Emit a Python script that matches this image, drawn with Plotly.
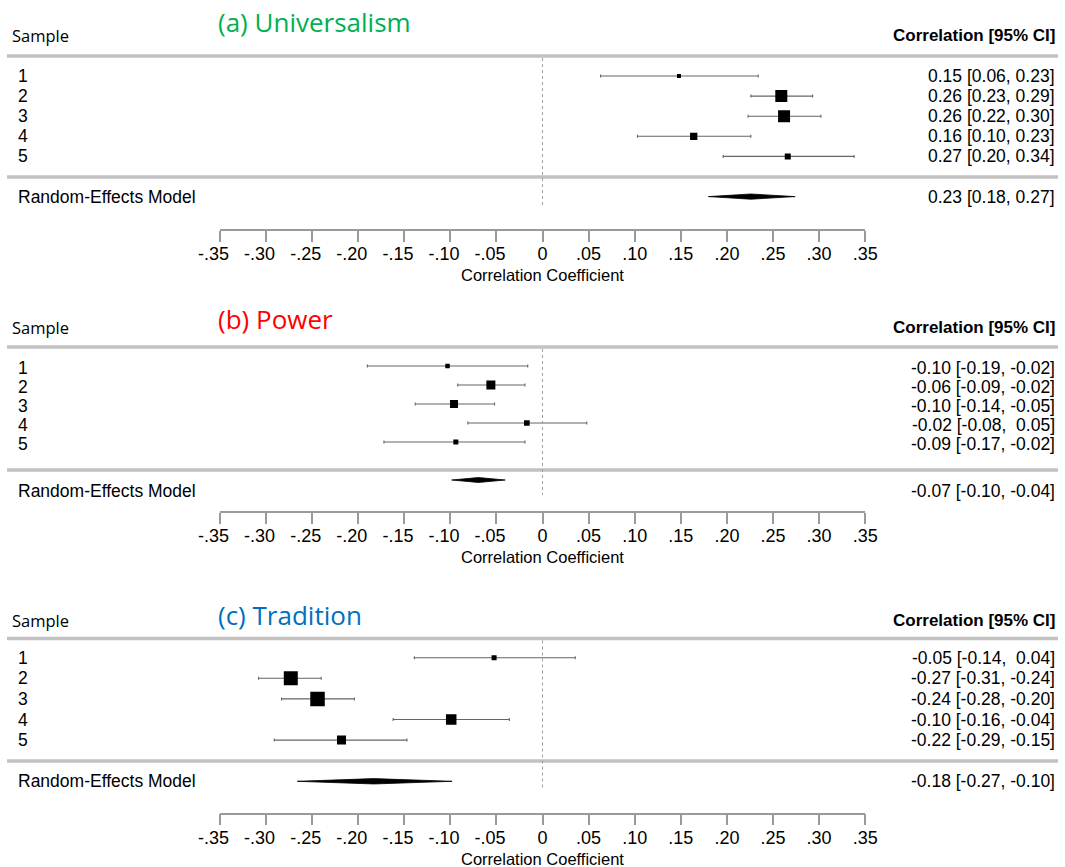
import plotly.graph_objects as go

# ---------------- data ----------------
samples = ["1", "2", "3", "4", "5"]
re_label = "Random-Effects Model"

tick_vals = [-0.35, -0.30, -0.25, -0.20, -0.15, -0.10, -0.05, 0, 0.05, 0.10, 0.15, 0.20, 0.25, 0.30, 0.35]
tick_text = ["-.35", "-.30", "-.25", "-.20", "-.15", "-.10", "-.05", "0", ".05", ".10", ".15", ".20", ".25", ".30", ".35"]

# (a) Universalism
a_est = [0.148, 0.259, 0.262, 0.164, 0.266]
a_lo = [0.063, 0.226, 0.223, 0.103, 0.196]
a_hi = [0.234, 0.293, 0.302, 0.226, 0.338]
a_weight = [8, 24, 24, 14.6, 12]
a_re = [0.226, 0.180, 0.274]  # est, lo, hi

# (b) Power
b_est = [-0.103, -0.056, -0.096, -0.017, -0.094]
b_lo = [-0.190, -0.092, -0.138, -0.081, -0.172]
b_hi = [-0.016, -0.019, -0.052, 0.048, -0.019]
b_weight = [9, 18, 16, 11.4, 10]
b_re = [-0.0695, -0.0985, -0.0405]

# (c) Tradition
c_est = [-0.0525, -0.273, -0.244, -0.099, -0.218]
c_lo = [-0.139, -0.308, -0.283, -0.162, -0.291]
c_hi = [0.0355, -0.240, -0.204, -0.036, -0.147]
c_weight = [10, 28, 29, 21, 18]
c_re = [-0.183, -0.266, -0.098]

titles = ["(a) Universalism", "(b) Power", "(c) Tradition"]

# ---------------- layout helpers ----------------
W, H = 1065, 867
X_LEFT_PX, X_RIGHT_PX = 219.8, 865.2


def py(p):
    return 1 - p / H


def pxf(p):
    return p / W


panels = [
    dict(est=a_est, lo=a_lo, hi=a_hi, w=a_weight, re=a_re, title=titles[0], color="#00B050",
         title_y=22, head_y=35, line1=56, line2=177, row1=76, step=20.1, dot_end=205, axis=229,
         text_shift=0, re_text_shift=0),
    dict(est=b_est, lo=b_lo, hi=b_hi, w=b_weight, re=b_re, title=titles[1], color="#FF0000",
         title_y=319, head_y=328, line1=347, line2=470, row1=366, step=19.0, dot_end=495, axis=511,
         text_shift=-2, re_text_shift=-10.5),
    dict(est=c_est, lo=c_lo, hi=c_hi, w=c_weight, re=c_re, title=titles[2], color="#0070C0",
         title_y=615, head_y=620, line1=638.5, line2=761, row1=657.7, step=20.6, dot_end=789, axis=812.5,
         text_shift=0, re_text_shift=0),
]

ARIAL = "Liberation Sans, Arial, sans-serif"
SANS2 = "Open Sans, Noto Sans, sans-serif"
NB = "\u00a0"


def fmt_col(vals):
    s = [f"{v:.2f}" for v in vals]
    n = max(len(t) for t in s)
    return [NB * (n - len(t)) + t for t in s]


fig = go.Figure()
annotations = []
shapes = []
layout_axes = {}

for k, p in enumerate(panels):
    idx = "" if k == 0 else str(k + 1)
    xa, ya = "x" + idx, "y" + idx
    rows = list(range(1, len(samples) + 1))
    re_row = len(samples) + 2

    def yv(pix, p=p):
        return 1 + (pix - p["row1"]) / p["step"]

    # CI whiskers (drawn first, beneath the squares)
    fig.add_trace(go.Scatter(
        x=p["est"], y=rows, mode="markers", xaxis=xa, yaxis=ya, showlegend=False, hoverinfo="skip",
        marker=dict(size=1, color="rgba(0,0,0,0)"),
        error_x=dict(type="data", symmetric=False,
                     array=[h - e for h, e in zip(p["hi"], p["est"])],
                     arrayminus=[e - l for e, l in zip(p["est"], p["lo"])],
                     color="#666666", thickness=1.1, width=1.5),
    ))
    # study estimates
    fig.add_trace(go.Scatter(
        x=p["est"], y=rows, mode="markers", xaxis=xa, yaxis=ya, showlegend=False,
        marker=dict(symbol="square", color="black", size=[0.5 * w for w in p["w"]],
                    line=dict(width=0), opacity=1),
    ))
    # summary diamond
    e, l, h = p["re"]
    dh = 0.13
    fig.add_trace(go.Scatter(
        x=[l, e, h, e, l], y=[re_row, re_row - dh, re_row, re_row + dh, re_row],
        mode="lines", fill="toself", fillcolor="black", line=dict(color="black", width=0.8),
        xaxis=xa, yaxis=ya, showlegend=False, hoverinfo="skip",
    ))

    layout_axes["xaxis" + idx] = dict(
        domain=[pxf(X_LEFT_PX), pxf(X_RIGHT_PX)], range=[-0.35, 0.35], anchor=ya,
        showgrid=False, zeroline=False, showline=True, linecolor="#9a9a9a", linewidth=1.5,
        ticks="outside", ticklen=11, tickwidth=1.5, tickcolor="#9a9a9a", tickangle=0,
        automargin=False, ticklabelstandoff=-3,
        tickvals=tick_vals,
        ticktext=[t + "\u2002\u2009" if t.startswith("-") else t for t in tick_text],
        tickfont=dict(family=ARIAL, size=18, color="black"),
    )
    layout_axes["yaxis" + idx] = dict(
        domain=[py(p["axis"]), py(p["line1"])], range=[yv(p["axis"]), yv(p["line1"])],
        anchor=xa, visible=False, showgrid=False, zeroline=False, automargin=False,
    )

    # separator lines
    for lp in (p["line1"], p["line2"]):
        shapes.append(dict(type="line", xref="paper", yref="paper", x0=pxf(7), x1=pxf(1058),
                           y0=py(lp), y1=py(lp), line=dict(color="#c2c2c2", width=3.5)))
    # dotted zero line
    shapes.append(dict(type="line", xref=xa, yref="paper", x0=0, x1=0,
                       y0=py(p["line1"] + 2), y1=py(p["dot_end"]),
                       line=dict(color="#a0a0a0", width=1, dash="dot")))

    # title + headers
    annotations.append(dict(text=p["title"], xref="paper", yref="paper", x=pxf(216), y=py(p["title_y"]),
                            xanchor="left", yanchor="middle", showarrow=False,
                            font=dict(family=SANS2, size=26, color=p["color"])))
    annotations.append(dict(text="Sample", xref="paper", yref="paper", x=pxf(10), y=py(p["head_y"]),
                            xanchor="left", yanchor="middle", showarrow=False,
                            font=dict(family=SANS2, size=16.5, color="black")))
    annotations.append(dict(text="<b>Correlation [95% CI]</b>", xref="paper", yref="paper", x=pxf(1057),
                            y=py(p["head_y"]), xanchor="right", yanchor="middle", showarrow=False,
                            font=dict(family=ARIAL, size=17, color="black")))
    annotations.append(dict(text="Correlation Coefficient", xref="paper", yref="paper",
                            x=pxf((X_LEFT_PX + X_RIGHT_PX) / 2), y=py(p["axis"] + 46),
                            xanchor="center", yanchor="middle", showarrow=False,
                            font=dict(family=ARIAL, size=16.5, color="black")))

    # row labels and CI texts
    ests = fmt_col(p["est"] + [e])
    los = fmt_col(p["lo"] + [l])
    his = fmt_col(p["hi"] + [h])
    labels = samples + [re_label]
    ys = rows + [re_row]
    for i, (lab, yy) in enumerate(zip(labels, ys)):
        shift = p["re_text_shift"] if i == len(samples) else p["text_shift"]
        annotations.append(dict(text=lab, xref="paper", yref=ya, x=pxf(16), y=yy, yshift=shift,
                                xanchor="left", yanchor="middle", showarrow=False,
                                font=dict(family=ARIAL, size=17.5, color="black")))
        annotations.append(dict(text=f"{ests[i]} [{los[i]}, {his[i]}]", xref="paper", yref=ya,
                                x=pxf(1057), y=yy, yshift=shift, xanchor="right", yanchor="middle",
                                showarrow=False, font=dict(family=ARIAL, size=17.5, color="black")))

fig.update_layout(
    template="none",
    width=W, height=H, margin=dict(l=0, r=0, t=0, b=0, pad=0, autoexpand=False),
    paper_bgcolor="white", plot_bgcolor="rgba(0,0,0,0)",
    annotations=annotations, shapes=shapes, showlegend=False,
    **layout_axes,
)

fig.write_html("out.html", config={"displayModeBar": False},
               post_script="document.body.style.margin='0px';document.body.style.overflow='hidden';")
